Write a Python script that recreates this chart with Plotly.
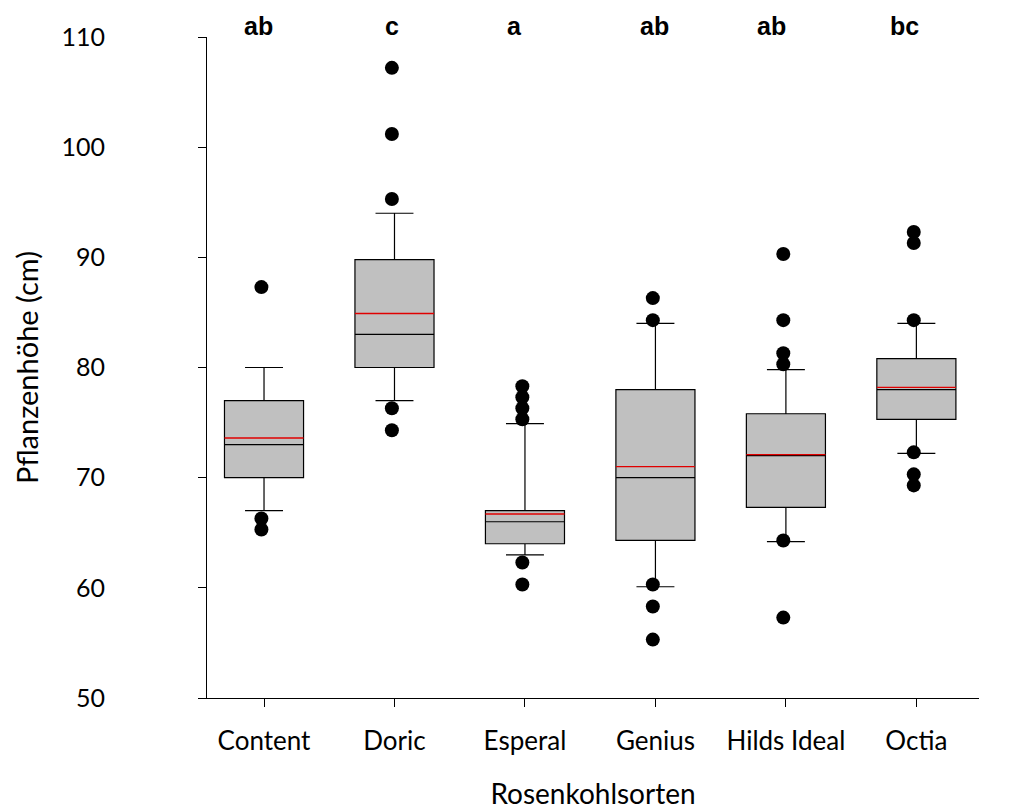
import plotly.graph_objects as go

# Rosenkohl plant heights per cultivar (cm): box statistics
categories = ["Content", "Doric", "Esperal", "Genius", "Hilds Ideal", "Octia"]
q1 = [70.0, 80.0, 64.0, 64.3, 67.3, 75.3]
median = [73.0, 83.0, 66.0, 70.0, 72.0, 78.0]
q3 = [77.0, 89.8, 67.0, 78.0, 75.8, 80.8]
whisker_low = [67.0, 77.0, 63.0, 60.1, 64.2, 72.2]
whisker_high = [80.0, 94.0, 74.9, 84.0, 79.8, 84.0]
mean = [73.6, 84.9, 66.7, 71.0, 72.1, 78.2]

outliers = [
    [87.3, 66.3, 65.3],
    [107.2, 101.2, 95.3, 76.3, 74.3],
    [78.3, 77.3, 76.3, 75.3, 62.3, 60.3],
    [86.3, 84.3, 60.3, 58.3, 55.3],
    [90.3, 84.3, 81.3, 80.3, 64.3, 57.3],
    [92.3, 91.3, 84.3, 72.3, 70.3, 69.3],
]

# significance groups printed above each cultivar
groups = ["ab", "c", "a", "ab", "ab", "bc"]
group_nudge_px = [-6, -2, -10, -1, -14, -12]

y_ticks = [50, 60, 70, 80, 90, 100, 110]

BOX_W = 0.606
TEXT_FONT = "Lato"

xs = list(range(len(categories)))
fig = go.Figure()

for i, name in enumerate(categories):
    fig.add_trace(go.Box(
        x=[i], q1=[q1[i]], median=[median[i]], q3=[q3[i]],
        lowerfence=[whisker_low[i]], upperfence=[whisker_high[i]],
        width=BOX_W, whiskerwidth=0.48,
        fillcolor="#c0c0c0",
        line=dict(color="black", width=1.2),
        boxpoints=False, name=name, showlegend=False, hoverinfo="skip",
    ))

# mean lines in red across each box
mx, my = [], []
for i, m in enumerate(mean):
    mx += [i - BOX_W / 2, i + BOX_W / 2, None]
    my += [m, m, None]
fig.add_trace(go.Scatter(x=mx, y=my, mode="lines",
                         line=dict(color="#e00000", width=1.3),
                         showlegend=False, hoverinfo="skip"))

# outlying observations
ox, oy = [], []
for i, pts in enumerate(outliers):
    ox += [i - 0.02] * len(pts)
    oy += pts
fig.add_trace(go.Scatter(x=ox, y=oy, mode="markers",
                         marker=dict(color="black", size=14, line=dict(width=0)),
                         showlegend=False, hoverinfo="skip"))

for i, g in enumerate(groups):
    fig.add_annotation(x=i, y=1, xref="x", yref="paper", text=f"<b>{g}</b>",
                       showarrow=False, yanchor="middle", yshift=11,
                       xshift=group_nudge_px[i],
                       font=dict(family="Liberation Sans", size=25, color="black"))

fig.update_layout(
    width=1034, height=810,
    margin=dict(l=207, r=55, t=37, b=112),
    plot_bgcolor="white", paper_bgcolor="white",
    showlegend=False,
)
fig.update_xaxes(
    range=[-0.437, 5.48], tickvals=xs, ticktext=categories, automargin=False,
    showline=True, linecolor="black", linewidth=1,
    ticks="outside", ticklen=8, tickcolor="black", tickwidth=1,
    showgrid=False, zeroline=False, ticklabelstandoff=12,
    tickfont=dict(family=TEXT_FONT, size=26, color="black"),
    title=dict(text="Rosenkohlsorten", standoff=30,
               font=dict(family=TEXT_FONT, size=28, color="black")),
)
fig.update_yaxes(
    range=[50, 110], tickvals=y_ticks, automargin=False,
    showline=True, linecolor="black", linewidth=1,
    ticks="outside", ticklen=8, tickcolor="black", tickwidth=1,
    showgrid=False, zeroline=False, ticklabelstandoff=88,
    tickfont=dict(family=TEXT_FONT, size=25, color="black"),
    title=dict(text="Pflanzenhöhe (cm)", standoff=14,
               font=dict(family=TEXT_FONT, size=29, color="black")),
)

fig.write_html("out.html")
